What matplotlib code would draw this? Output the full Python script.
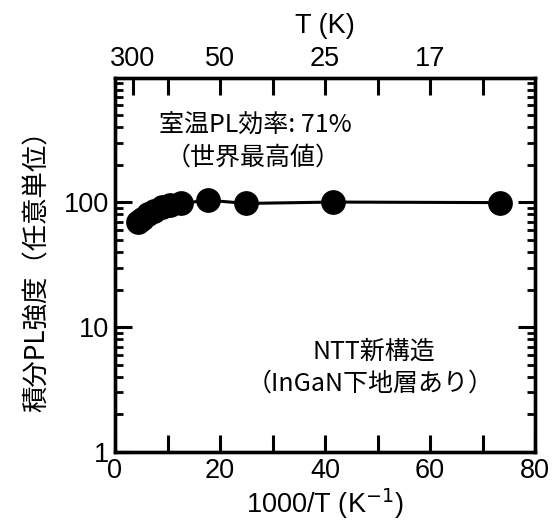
import matplotlib
matplotlib.use("Agg")
import matplotlib.pyplot as plt
from matplotlib.ticker import LogLocator, NullFormatter, FixedLocator

plt.rcParams['font.family'] = ['Liberation Sans', 'Noto Sans CJK JP', 'DejaVu Sans']

# Integrated PL intensity vs inverse temperature
inv_T = [4.3, 5.2, 6.2, 7.5, 9.0, 10.5, 12.6, 17.7, 25.0, 41.5, 73.3]
pl_intensity = [70, 74, 80, 86, 92, 95, 98, 104, 98, 100.5, 99.5]

# Temperature labels on the top axis
top_T_labels = ["300", "50", "25", "17"]
top_T_values = [300, 50, 25, 1000 / 60]

fig = plt.figure(figsize=(5.52, 5.21), dpi=100)
ax = fig.add_axes([115 / 552, 1 - 452 / 521, 420 / 552, 374.5 / 521])

ax.plot(inv_T, pl_intensity, color='black', lw=2.2, marker='o',
        markersize=16.8, markerfacecolor='black', markeredgecolor='black', zorder=3)

ax.set_xlim(0, 80)
ax.set_yscale('log')
ax.set_ylim(1, 1000)

fs = 19.5
ax.set_xticks([0, 20, 40, 60, 80])
ax.xaxis.set_minor_locator(FixedLocator([10, 30, 50, 70]))
ax.set_yticks([1, 10, 100])
ax.set_yticklabels(['1', '10', '100'])
ax.yaxis.set_minor_locator(LogLocator(base=10, subs=range(2, 10)))
ax.yaxis.set_minor_formatter(NullFormatter())

ax.tick_params(axis='both', which='major', direction='in', length=12, width=2.2,
               labelsize=fs, top=False, right=True, pad=4)
ax.tick_params(axis='y', which='minor', direction='in', length=6, width=2.0, right=True)
ax.tick_params(axis='x', which='minor', direction='in', length=12, width=2.2, top=False)
for s in ax.spines.values():
    s.set_linewidth(2.4)

jp = ['Noto Sans CJK JP', 'DejaVu Sans']
ax.set_xlabel('1000/T (K$^{-1}$)', fontsize=fs, labelpad=2)
ax.set_ylabel('積分PL強度（任意単位）', fontsize=19, labelpad=10, family=jp)

# Top axis: temperature scale
top = ax.twiny()
top.set_xlim(ax.get_xlim())
top.set_xticks([1000 / t for t in top_T_values])
top.set_xticklabels(top_T_labels)
top.xaxis.set_minor_locator(FixedLocator([1000 / 300, 10, 30, 50, 70]))
top.tick_params(axis='x', which='major', direction='in', length=12, width=2.2,
                labelsize=fs, pad=4)
top.tick_params(axis='x', which='minor', direction='in', length=12, width=2.2)
top.set_xlabel('T (K)', fontsize=fs, labelpad=9)
for s in top.spines.values():
    s.set_linewidth(2.4)

ax.text(0.335, 0.87, '室温PL効率: 71%', transform=ax.transAxes, ha='center', va='center',
        fontsize=18, family=jp)
ax.text(0.328, 0.785, '（世界最高値）', transform=ax.transAxes, ha='center', va='center',
        fontsize=18, family=jp)
ax.text(0.617, 0.267, 'NTT新構造', transform=ax.transAxes, ha='center', va='center',
        fontsize=18, family=jp)
ax.text(0.607, 0.183, '（InGaN下地層あり）', transform=ax.transAxes, ha='center', va='center',
        fontsize=18, family=jp)

fig.savefig('out.png', dpi=100)
